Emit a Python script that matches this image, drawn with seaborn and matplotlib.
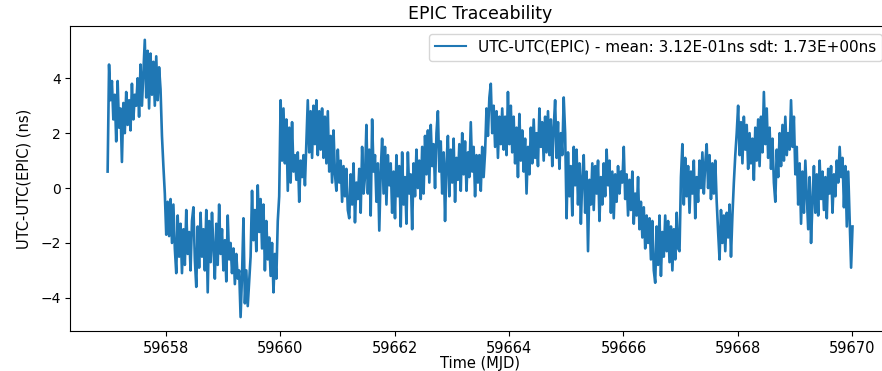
import numpy as np
import pandas as pd
import seaborn as sns
import matplotlib
matplotlib.use("Agg")
import matplotlib.pyplot as plt

# ----- data (UTC - UTC(EPIC), ns) -----
# one sample every 0.025 day starting at MJD 59656.98, rows of half a day
T_START = 59656.98
T_STEP = 0.025

offset_ns = [
    0.6, 4.5, 3.2, 3.9, 2.5, 3.4, 1.7, 3.9, 2.2, 2.9, 0.95, 3.1, 2.0, 3.5, 2.3, 3.2, 2.1, 3.8, 2.5, 3.4,
    3.0, 4.0, 2.6, 4.5, 3.0, 4.2, 5.4, 3.3, 5.0, 2.9, 4.9, 3.4, 4.6, 3.0, 4.8, 3.2, 4.4, 3.6, 1.9, 0.8,
    -0.2, -1.7, -0.5, -1.75, -0.4, -2.0, -0.6, -2.2, -3.1, -1.0, -2.5, -1.3, -3.1, -1.5, -2.8, -0.8, -2.4, -1.6, -3.0, -1.2,
    -0.7, -2.6, -3.6, -1.4, -2.9, -0.9, -2.5, -1.5, -3.0, -0.8, -3.8, -1.2, -2.7, -0.9, -2.2, -3.3, -1.3, -2.8, -0.6, -2.4,
    -1.5, -3.0, -1.9, -3.4, -1.0, -2.6, -2.0, -3.1, -2.2, -3.5, -2.4, -3.3, -3.0, -4.7, -3.2, -1.1, -4.2, -3.0, -4.3, -3.4,
    -2.5, -0.1, -1.9, -0.8, -2.3, 0.1, -1.6, -0.4, -2.2, -0.6, -3.0, -1.2, -2.6, -1.8, -3.2, -2.0, -3.8, -2.4, -3.3, -1.2,
    -0.3, 3.2, 1.0, 2.9, 0.9, 2.5, -0.1, 2.2, 0.2, 2.4, 0.6, 1.2, 0.3, 1.3, -0.5, 1.0, 0.4, 1.2, 0.1, 1.7,
    3.2, 1.3, 2.8, 1.1, 3.0, 1.6, 3.2, 1.2, 2.8, 1.4, 2.9, 1.1, 2.6, 0.9, 2.8, 0.6, 1.9, 0.2, 2.1, 0.5,
    -0.1, 1.4, 0.2, 1.0, -0.5, 0.8, -0.3, 0.7, -0.8, -1.1, 0.5, -0.6, 0.9, -1.25, 0.2, -0.4, 0.7, -0.9, 1.5, -0.2,
    0.4, 2.3, -0.2, 1.4, -1.0, 2.5, 0.6, 1.2, -0.5, 0.9, -1.55, 0.6, 1.8, -0.2, 1.5, -0.6, 1.2, 0.1, 0.9, -0.9,
    0.6, -1.1, 1.2, -0.3, 0.8, -1.4, 1.3, -0.6, 0.4, -1.3, 1.3, -0.2, 0.5, -1.5, 0.9, -0.3, 1.4, 0.0, 1.0, -0.4,
    1.5, -0.2, 1.9, 0.5, 2.1, 0.2, 2.3, 0.8, 1.6, 0.0, 2.0, 2.8, 0.6, 1.7, -0.2, 1.3, -1.2, 0.9, 1.9, -0.3,
    1.4, 0.2, 1.8, -0.5, 1.1, 0.3, 1.6, -0.1, 2.0, 0.5, 1.7, -0.1, 1.3, 0.4, 2.4, 0.6, 1.5, -0.3, 1.2, 0.2,
    1.2, -0.1, 1.5, 0.4, 1.3, 2.9, 1.9, 3.3, 3.8, 2.0, 3.0, 1.5, 2.8, 1.1, 2.6, 1.6, 2.9, 1.4, 2.6, 1.2,
    3.5, 1.6, 3.0, 1.3, 2.6, 0.9, 2.2, 0.4, 2.7, 1.0, 2.1, 0.6, 1.8, -0.2, 1.5, 0.5, 2.2, 0.9, 2.5, 1.1,
    2.0, 0.8, 2.9, 1.5, 2.4, 1.0, 2.6, 1.3, 2.8, 1.2, 2.5, 0.8, 2.2, 3.2, 1.1, 2.4, 0.7, 2.0, 1.2, 3.3,
    2.0, -1.1, 1.3, -0.3, 0.8, -1.0, 1.5, 0.1, 1.4, -0.6, 0.9, -1.3, 0.4, 1.2, -0.9, 0.6, -2.3, 0.3, -0.6, 0.9,
    -0.8, 0.8, -0.2, 1.0, -1.2, 0.4, -0.6, 0.9, -0.3, 1.4, 0.1, 1.0, -0.9, 0.6, -1.1, 0.5, -0.5, 0.8, -0.2, 0.6,
    0.2, 1.5, -0.4, 0.5, -1.0, 0.3, -0.8, 0.6, -1.3, -0.2, -1.0, 0.4, -1.5, -0.5, -1.8, -0.7, -2.2, -1.0, -2.0, -1.1,
    -2.6, -1.2, -3.0, -3.45, -1.4, -2.8, -1.0, -3.2, -1.6, -2.5, -1.0, -2.3, -1.2, -2.7, -1.4, -3.0, -1.5, -2.6, -0.9, -2.2,
    -2.3, 0.4, 1.6, -0.6, 1.1, -0.3, 0.8, -0.9, 0.6, -0.2, 1.0, -1.1, 0.4, -0.5, 1.0, 0.0, 1.3, -0.2, 0.9, 1.6,
    0.0, 1.2, -0.4, 0.9, -0.2, 1.0, -0.5, -1.6, -2.6, -0.8, -2.0, -1.0, -2.3, -0.9, -1.8, -0.6, -2.5, -1.0, 0.2, 1.2,
    2.0, 3.0, 1.2, 2.4, 0.9, 2.6, 1.4, 2.3, 0.7, 2.0, 0.9, 1.8, 0.3, 2.2, 1.0, 2.5, 0.8, 2.6, 1.3, 3.5,
    1.6, 2.9, 1.1, 2.2, 0.7, 1.8, 0.2, -0.5, 1.4, 0.4, 2.0, 0.8, 2.3, 1.0, 2.6, 1.2, 2.0, 1.4, 3.2, 1.5,
    2.6, 0.5, 1.5, -0.6, 0.9, -1.3, 0.6, -0.9, 1.0, -0.3, -1.5, 0.4, -2.0, -0.5, 0.8, -0.9, 0.5, -1.0, 1.0, -0.4,
    0.6, -0.8, 0.4, -1.1, 0.7, -0.2, 0.8, -0.9, 0.5, -0.3, 1.0, 0.2, 1.5, 0.4, 1.1, -0.7, 0.8, -1.4, 0.6, -1.2,
    -2.9, -1.4,
]

legend_label = "UTC-UTC(EPIC) - mean: 3.12E-01ns sdt: 1.73E+00ns"

df = pd.DataFrame({
    "mjd": T_START + T_STEP * np.arange(len(offset_ns)),
    "offset": offset_ns,
})

# ----- plot -----
fig = plt.figure(figsize=(8.82, 3.71), dpi=100)
ax = fig.add_axes([0.0798, 0.108, 0.929, 0.822])

sns.lineplot(data=df, x="mjd", y="offset", ax=ax, estimator=None,
             color="#1f77b4", linewidth=1.9, label=legend_label)

ax.set_xticks([59658, 59660, 59662, 59664, 59666, 59668, 59670])
ax.set_yticks([-4, -2, 0, 2, 4])
ax.tick_params(axis="x", labelsize=10.5)
ax.tick_params(axis="y", labelsize=10)
ax.set_title("EPIC Traceability", fontsize=12.5, pad=5)
ax.set_xlabel("Time (MJD)", fontsize=10.5, labelpad=0)
ax.set_ylabel("UTC-UTC(EPIC) (ns)", fontsize=10.5, labelpad=6)
leg = ax.legend(loc="upper right", fontsize=11)
leg.get_lines()[0].set_linewidth(1.5)

fig.savefig("out.png", dpi=100)
